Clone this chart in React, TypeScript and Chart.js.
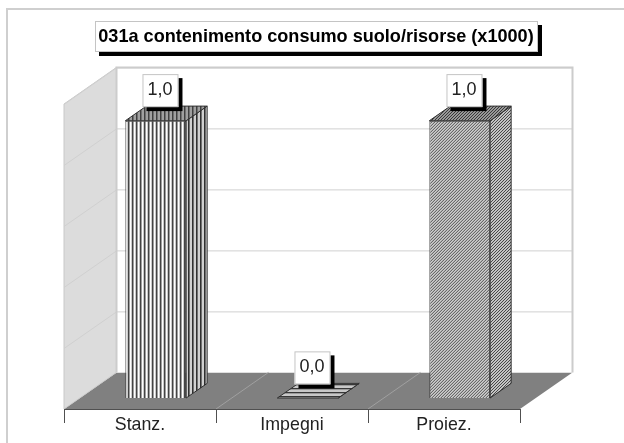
import React, { useEffect, useRef } from "react";
import { Chart, registerables } from "chart.js";

Chart.register(...registerables);

const titleText = "031a contenimento consumo suolo/risorse (x1000)";
const categories = ["Stanz.", "Impegni", "Proiez."];
const values = [1.0, 0.0, 1.0];
const valueLabels = ["1,0", "0,0", "1,0"];
const axisMax = 1.1;
const axisStep = 0.22;

const FONT = '"Liberation Sans", Arial, sans-serif';
const DX = 52.5; // floor depth, horizontal
const DY = 36.6; // floor depth, vertical
const BAR_FRONT = 0.3;
const BAR_BACK = 0.7;

type Kind = "v" | "h" | "d";
function makePattern(ctx: CanvasRenderingContext2D, kind: Kind, bg: string, fg: string, mid?: string) {
  const size = kind === "d" ? 3 : 4;
  const c = document.createElement("canvas");
  c.width = size;
  c.height = size;
  const p = c.getContext("2d")!;
  p.fillStyle = bg;
  p.fillRect(0, 0, size, size);
  p.fillStyle = fg;
  if (kind === "v") p.fillRect(0, 0, 1, size);
  if (kind === "h") p.fillRect(0, 0, size, 1);
  if (kind === "d") for (let i = 0; i < size; i++) p.fillRect(size - 1 - i, i, 1, 1);
  if (mid) {
    p.fillStyle = mid;
    if (kind === "v") p.fillRect(1, 0, 1, size);
    if (kind === "h") p.fillRect(0, 1, size, 1);
    if (kind === "d") for (let i = 0; i < size; i++) p.fillRect((2 * size - i) % size, i, 1, 1);
  }
  return ctx.createPattern(c, "repeat")!;
}

function poly(ctx: CanvasRenderingContext2D, pts: number[][], fill: any, stroke?: string) {
  ctx.beginPath();
  pts.forEach((q, i) => (i ? ctx.lineTo(q[0], q[1]) : ctx.moveTo(q[0], q[1])));
  ctx.closePath();
  if (fill) {
    ctx.fillStyle = fill;
    ctx.fill();
  }
  if (stroke) {
    ctx.strokeStyle = stroke;
    ctx.lineWidth = 1;
    ctx.stroke();
  }
}

function shadowBox(ctx: CanvasRenderingContext2D, x: number, y: number, w: number, h: number) {
  ctx.fillStyle = "#000";
  ctx.fillRect(x + 4, y + 4, w, h);
  ctx.fillStyle = "#fff";
  ctx.fillRect(x, y, w, h);
  ctx.strokeStyle = "#c4c4c4";
  ctx.lineWidth = 1;
  ctx.strokeRect(x + 0.5, y + 0.5, w - 1, h - 1);
}

const scene3d = {
  id: "scene3d",
  beforeDatasetsDraw(chart: any) {
    const { ctx, chartArea: a, scales } = chart;
    const y = scales.y;
    ctx.save();
    // frame
    ctx.fillStyle = "#cfcfcf";
    ctx.fillRect(6, 8, 2, 435);
    ctx.fillRect(6, 8, 618, 2);
    const l = a.left, r = a.right, t = a.top, b = a.bottom;
    // floor
    poly(ctx, [[l, b], [r, b], [r + DX, b - DY], [l + DX, b - DY]], "#808080");
    // left wall
    poly(ctx, [[l, b], [l + DX, b - DY], [l + DX, t - DY], [l, t]], "#dcdcdc", "#c8c8c8");
    // back wall
    poly(ctx, [[l + DX, b - DY], [r + DX, b - DY], [r + DX, t - DY], [l + DX, t - DY]], "#ffffff");
    ctx.lineWidth = 1;
    for (const tick of y.ticks) {
      const py = Math.round(y.getPixelForValue(tick.value)) + 0.5;
      if (tick.value === 0) continue;
      ctx.strokeStyle = "#d0d0d0";
      ctx.beginPath();
      ctx.moveTo(l, py);
      ctx.lineTo(l + DX, py - DY);
      ctx.lineTo(r + DX, py - DY);
      ctx.stroke();
    }
    // back wall outline
    ctx.strokeStyle = "#cccccc";
    ctx.lineWidth = 2;
    ctx.beginPath();
    ctx.moveTo(l + DX, b - DY);
    ctx.lineTo(l + DX, t - DY);
    ctx.lineTo(r + DX, t - DY);
    ctx.lineTo(r + DX, b - DY);
    ctx.stroke();
    // floor lines at category edges
    ctx.lineWidth = 1;
    ctx.strokeStyle = "#a0a0a0";
    const cw = (r - l) / categories.length;
    for (let i = 1; i < categories.length; i++) {
      ctx.beginPath();
      ctx.moveTo(l + cw * i, b);
      ctx.lineTo(l + cw * i + DX, b - DY);
      ctx.stroke();
    }
    ctx.strokeStyle = "#505050";
    ctx.beginPath();
    ctx.moveTo(l, b + 0.5);
    ctx.lineTo(r, b + 0.5);
    ctx.stroke();

    // side + top faces
    const bars = chart.getDatasetMeta(0).data;
    const sides = [
      makePattern(ctx, "v", "#d0d0d0", "#303030", "#707070"),
      makePattern(ctx, "h", "#d8d8d8", "#404040"),
      makePattern(ctx, "d", "#c4c4c4", "#484848"),
    ];
    const tops = [
      makePattern(ctx, "v", "#a0a0a0", "#404040", "#707070"),
      makePattern(ctx, "h", "#c8c8c8", "#383838", "#9a9a9a"),
      makePattern(ctx, "d", "#989898", "#383838"),
    ];
    bars.forEach((bar: any, i: number) => {
      const x0 = bar.x - bar.width / 2 + DX * BAR_FRONT;
      const x1 = bar.x + bar.width / 2 + DX * BAR_FRONT;
      const yt = bar.y - DY * BAR_FRONT;
      const yb = bar.base - DY * BAR_FRONT;
      const ddx = DX * (BAR_BACK - BAR_FRONT);
      const ddy = DY * (BAR_BACK - BAR_FRONT);
      poly(ctx, [[x1, yt], [x1 + ddx, yt - ddy], [x1 + ddx, yb - ddy], [x1, yb]], sides[i], "#303030");
      poly(ctx, [[x0, yt], [x1, yt], [x1 + ddx, yt - ddy], [x0 + ddx, yt - ddy]], tops[i], "#303030");
    });
    ctx.restore();
  },
  beforeDatasetDraw(chart: any) {
    const { ctx } = chart;
    ctx.save();
    ctx.translate(DX * BAR_FRONT, -DY * BAR_FRONT);
  },
  afterDatasetDraw(chart: any) {
    chart.ctx.restore();
  },
  afterDatasetsDraw(chart: any) {
    const { ctx } = chart;
    const bars = chart.getDatasetMeta(0).data;
    ctx.save();
    ctx.textAlign = "center";
    ctx.textBaseline = "middle";
    bars.forEach((bar: any, i: number) => {
      const cx = bar.x + DX * 0.39;
      const w = 36, h = 33;
      const by = bar.y - DY * 0.7 - h + 1;
      shadowBox(ctx, cx - w / 2, by, w, h);
      ctx.fillStyle = "#222";
      ctx.font = `18px ${FONT}`;
      ctx.fillText(valueLabels[i], cx - 0.5, by + h / 2 - 0.5);
    });
    // title
    shadowBox(ctx, 95, 21, 443, 31);
    ctx.fillStyle = "#000";
    ctx.font = `bold 18.1px ${FONT}`;
    ctx.fillText(titleText, 316, 36.5);
    ctx.restore();
  },
};

export default function App() {
  const ref = useRef<HTMLCanvasElement>(null);
  useEffect(() => {
    const canvas = ref.current!;
    const ctx = canvas.getContext("2d")!;
    const chart = new Chart(ctx, {
      type: "bar",
      data: {
        labels: categories,
        datasets: [
          {
            data: values,
            backgroundColor: [
              makePattern(ctx, "v", "#ffffff", "#303030", "#808080"),
              "rgba(0,0,0,0)",
              makePattern(ctx, "d", "#d4d4d4", "#404040"),
            ],
            borderColor: "#303030",
            borderWidth: 1,
            categoryPercentage: 0.4,
            barPercentage: 1,
            clip: false,
          } as any,
        ],
      },
      options: {
        responsive: false,
        animation: false,
        layout: { padding: { left: 64, right: 104, top: 104, bottom: 0 } },
        plugins: { legend: { display: false }, tooltip: { enabled: false } },
        scales: {
          x: {
            afterFit: (s: any) => {
              s.height = 34;
            },
            grid: {
              drawOnChartArea: false,
              tickLength: 14,
              tickColor: "#505050",
              tickWidth: 1,
            },
            border: { display: false },
            ticks: {
              color: "#222",
              padding: -9,
              maxRotation: 0,
              font: { family: FONT, size: 17.8 },
            },
          },
          y: {
            display: false,
            min: 0,
            max: axisMax,
            ticks: { stepSize: axisStep },
          },
        },
      },
      plugins: [scene3d as any],
    });
    return () => chart.destroy();
  }, []);
  return (
    <div style={{ position: "fixed", left: 0, top: 0, width: 624, height: 443, background: "#fff" }}>
      <canvas ref={ref} width={624} height={443} style={{ display: "block" }} />
    </div>
  );
}
